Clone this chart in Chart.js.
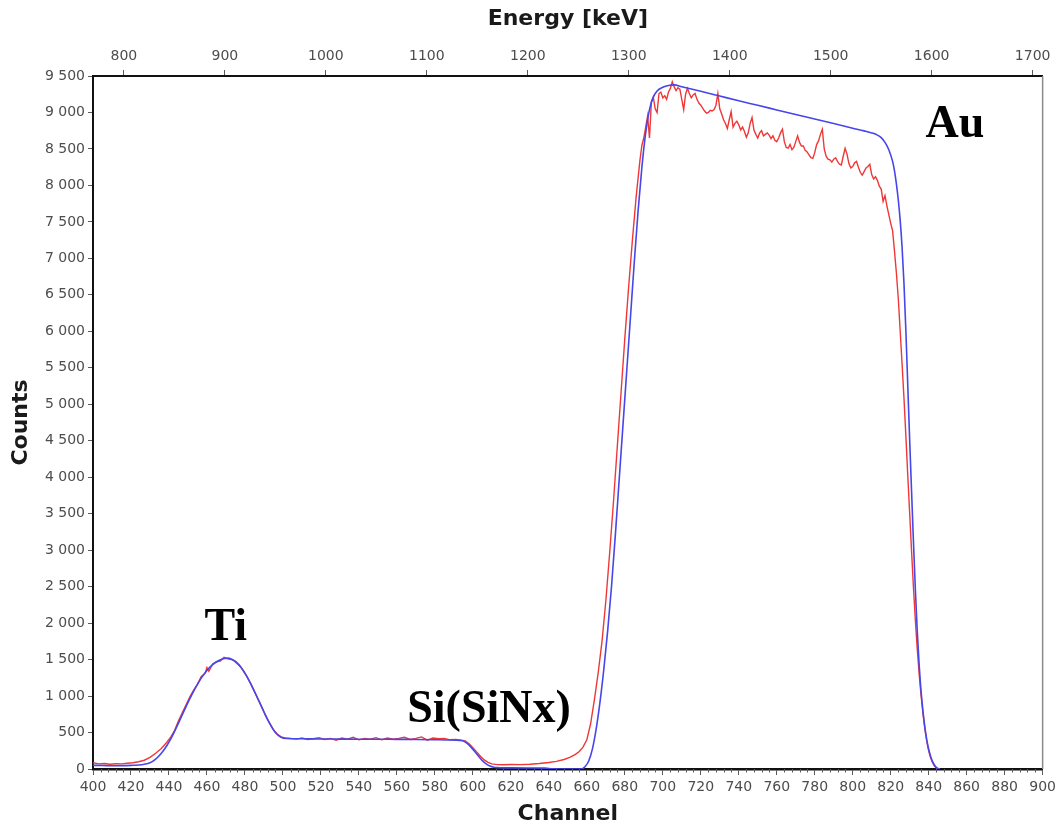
<!DOCTYPE html>
<html>
<head>
<meta charset="utf-8">
<script src="https://cdn.jsdelivr.net/npm/chart.js@4/dist/chart.umd.min.js"></script>
<style>
  html, body { margin: 0; padding: 0; background: #ffffff; }
  #wrap { width: 1060px; height: 827px; }
</style>
</head>
<body>
<div id="wrap"><canvas id="c" width="1060" height="827"></canvas></div>
<script>
// ---------------- data ----------------
const blueChannels = [400,405,410,415,420,424,427,430,433,436,439,442,445,448,451,454,457,460,463,466,469,471,473,475,478,481,484,487,490,493,496,499,502,510,520,530,540,550,560,570,580,588,593,595,597,599,601,603,605,607,609,611,614,620,630,638,642,650,657,659,661,663,665,667,669,671,673,675,677,679,681,683,685,687,689,691,693,695,697,700,703,706,710,720,730,740,750,760,770,780,790,800,806,810,813,815,817,819,821,822,823,824,825,826,827,828,829,830,831,832,833,834,835,836,837,838,839,840,841,842,843,844,845,846];
const blueCounts = [50,48,45,46,50,55,65,85,135,215,325,465,630,800,965,1115,1245,1350,1430,1485,1515,1520,1505,1470,1390,1270,1120,955,785,625,500,435,418,415,412,410,408,408,406,405,402,398,392,385,350,300,240,175,115,70,40,25,18,15,14,12,3,0,0,30,110,280,560,930,1380,1900,2500,3200,3950,4700,5450,6200,6950,7650,8250,8720,9040,9210,9295,9345,9370,9378,9352,9290,9225,9160,9098,9035,8972,8910,8848,8785,8748,8720,8690,8655,8590,8490,8330,8200,8020,7800,7520,7150,6650,6000,5250,4500,3800,3100,2450,1880,1420,1060,790,570,400,270,175,105,55,22,5,0];

const redChannels = [400,403,406,409,412,415,418,421,424,427,430,433,436,439,441,443,445,447,449,451,453,455,457,459,460,461,463,465,467,469,471,473,475,477,479,481,483,485,487,489,491,493,495,497,499,501,504,507,510,513,516,519,522,525,528,531,534,537,540,543,546,549,552,555,558,561,564,567,570,573,576,579,582,585,588,591,594,596,598,600,602,604,606,608,610,613,616,620,625,630,635,640,644,648,651,654,656,658,660,662,664,666,668,670,672,674,676,678,680,682,684,686,688,689,
  690,691,692,693,694,695,696,697,698,699,700,701,702,703,704,705,706,707,708,709,710,711,712,713,714,715,716,717,718,719,720,721,722,723,724,725,726,727,728,729,730,731,732,733,734,735,736,737,738,739,740,741,742,743,744,745,746,747,748,749,750,751,752,753,754,755,756,757,758,759,760,761,762,763,764,765,766,767,768,769,770,771,772,773,774,775,776,777,778,779,780,781,782,783,784,785,786,787,788,789,790,791,792,793,794,795,796,797,798,799,800,801,802,803,804,805,806,807,808,809,810,811,812,813,814,815,816,817,818,819,820,821,822,823,824,
  825,826,827,828,829,830,831,832,833,834,835,836,837,838,839,840,841,842,843,844,845];
const redCounts = [85,70,75,65,72,70,78,85,100,120,160,215,280,370,440,530,660,770,880,990,1080,1160,1270,1310,1390,1340,1440,1470,1480,1530,1510,1500,1480,1430,1350,1270,1170,1060,950,840,720,630,540,480,440,425,420,410,425,405,415,430,405,420,395,425,410,435,400,420,410,430,400,425,410,420,435,405,420,440,395,425,415,420,400,405,395,385,345,290,235,175,125,90,70,60,58,62,60,66,75,90,105,130,160,200,240,300,400,620,950,1320,1750,2300,2950,3650,4400,5150,5900,6600,7250,7850,8350,8550,
  8650,8800,8950,8650,9150,9210,9050,9000,9260,9280,9200,9230,9180,9280,9330,9420,9350,9300,9340,9320,9180,9040,9250,9330,9260,9200,9240,9260,9180,9130,9100,9060,9020,8990,9000,9030,9020,9040,9100,9260,9050,8980,8900,8850,8780,8900,9010,8800,8850,8880,8830,8760,8800,8740,8660,8720,8850,8930,8760,8700,8650,8720,8750,8680,8700,8720,8690,8640,8680,8620,8600,8650,8720,8770,8600,8520,8510,8560,8490,8520,8600,8680,8590,8540,8540,8480,8460,8420,8380,8370,8450,8560,8610,8700,8770,8500,8400,8360,8350,8320,8360,8380,8330,8290,8280,8400,8510,8430,8300,8240,8260,8310,8330,8250,8180,8140,8190,8240,8260,8290,8150,8090,8120,8070,7990,7950,7780,7860,7720,7600,7480,7380,7100,6800,6450,
  6000,5550,5080,4560,4020,3500,2980,2480,2030,1640,1300,1010,760,550,380,250,155,90,45,15,0];

// peak annotations
const peakLabels   = ['Ti', 'Si(SiNx)', 'Au'];
const peakChannels = [469.9, 608.5, 853.8];
const peakCounts   = [1768, 644, 8664];

// axis ranges and tick values
const channelRange = [400, 900];
const energyRange  = [769.4, 1709.9];
const energyTicks  = [800, 900, 1000, 1100, 1200, 1300, 1400, 1500, 1600, 1700];
const countsRange  = [0, 9500];

// ---------------- chart ----------------
Chart.defaults.font.family = '"DejaVu Sans", Verdana, sans-serif';

const toXY = (xs, ys) => xs.map((x, i) => ({ x: x, y: ys[i] }));
const fmtThousands = v => String(v).replace(/\B(?=(\d{3})+(?!\d))/g, ' ');

const TICK_COLOR = '#5a5a5a';
const LABEL_COLOR = '#4d4d4d';

const framePlugin = {
  id: 'frame',
  afterDatasetsDraw(chart) {
    const { ctx, chartArea: a, scales } = chart;
    ctx.save();
    // right border
    ctx.strokeStyle = '#8a8a8a';
    ctx.lineWidth = 1.5;
    ctx.beginPath();
    ctx.moveTo(a.right, a.top);
    ctx.lineTo(a.right, a.bottom);
    ctx.stroke();
    // minor ticks on channel axis
    const xs = scales.x;
    ctx.strokeStyle = TICK_COLOR;
    ctx.lineWidth = 1;
    ctx.beginPath();
    for (let v = channelRange[0]; v <= channelRange[1]; v += 4) {
      if (v % 20 === 0) continue;
      const px = Math.round(xs.getPixelForValue(v)) + 0.5;
      ctx.moveTo(px, a.bottom);
      ctx.lineTo(px, a.bottom + 3.5);
    }
    ctx.stroke();
    // peak labels
    ctx.fillStyle = '#000';
    ctx.font = 'bold 46px "Liberation Serif", "Times New Roman", serif';
    ctx.textAlign = 'center';
    ctx.textBaseline = 'alphabetic';
    peakLabels.forEach((t, i) => {
      ctx.fillText(t, xs.getPixelForValue(peakChannels[i]), scales.y.getPixelForValue(peakCounts[i]));
    });
    ctx.restore();
  }
};

new Chart(document.getElementById('c'), {
  type: 'line',
  data: {
    datasets: [
      {
        label: 'simulation',
        data: toXY(blueChannels, blueCounts),
        borderColor: 'rgb(70, 70, 235)',
        borderWidth: 1.6,
        pointRadius: 0,
        cubicInterpolationMode: 'monotone',
        xAxisID: 'x', yAxisID: 'y'
      },
      {
        label: 'experiment',
        data: toXY(redChannels, redCounts),
        borderColor: 'rgb(240, 55, 55)',
        borderWidth: 1.4,
        pointRadius: 0,
        tension: 0,
        xAxisID: 'x', yAxisID: 'y'
      }
    ]
  },
  options: {
    responsive: false,
    animation: false,
    devicePixelRatio: 1,
    layout: { padding: { left: 0, right: 14, top: 0, bottom: 0 } },
    plugins: { legend: { display: false }, tooltip: { enabled: false } },
    scales: {
      x: {
        type: 'linear', position: 'bottom', bounds: 'data',
        min: channelRange[0], max: channelRange[1],
        ticks: { stepSize: 20, autoSkip: false, maxRotation: 0, color: LABEL_COLOR, font: { size: 14 }, padding: 4 },
        grid: { drawOnChartArea: false, drawTicks: true, tickLength: 6, tickColor: TICK_COLOR },
        border: { display: true, color: '#111', width: 2.5 },
        title: { display: true, text: 'Channel', color: '#1a1a1a', font: { size: 22, weight: 'bold', lineHeight: 1 }, padding: { top: 0, bottom: 2 } },
        afterFit: s => { s.height = 58; }
      },
      x2: {
        type: 'linear', position: 'top', bounds: 'data',
        min: energyRange[0], max: energyRange[1],
        afterBuildTicks: s => { s.ticks = energyTicks.map(v => ({ value: v })); },
        ticks: { autoSkip: false, maxRotation: 0, color: LABEL_COLOR, font: { size: 14 }, padding: 5, callback: v => String(v) },
        grid: { drawOnChartArea: false, drawTicks: true, tickLength: 6, tickColor: TICK_COLOR },
        border: { display: true, color: '#111', width: 2 },
        title: { display: true, text: 'Energy [keV]', color: '#1a1a1a', font: { size: 22, weight: 'bold', lineHeight: 1 }, padding: { top: 8, bottom: 0 } },
        afterFit: s => { s.height = 76; }
      },
      y: {
        type: 'linear', position: 'left', bounds: 'data',
        min: countsRange[0], max: countsRange[1],
        ticks: { stepSize: 500, autoSkip: false, color: LABEL_COLOR, font: { size: 14 }, padding: 3, callback: v => fmtThousands(v) },
        grid: { drawOnChartArea: false, drawTicks: true, tickLength: 5, tickColor: TICK_COLOR },
        border: { display: true, color: '#111', width: 2 },
        title: { display: true, text: 'Counts', color: '#1a1a1a', font: { size: 22, weight: 'bold', lineHeight: 1 }, padding: { top: 10, bottom: 0 } },
        afterFit: s => { s.width = 93; }
      }
    }
  },
  plugins: [framePlugin]
});
</script>
</body>
</html>
